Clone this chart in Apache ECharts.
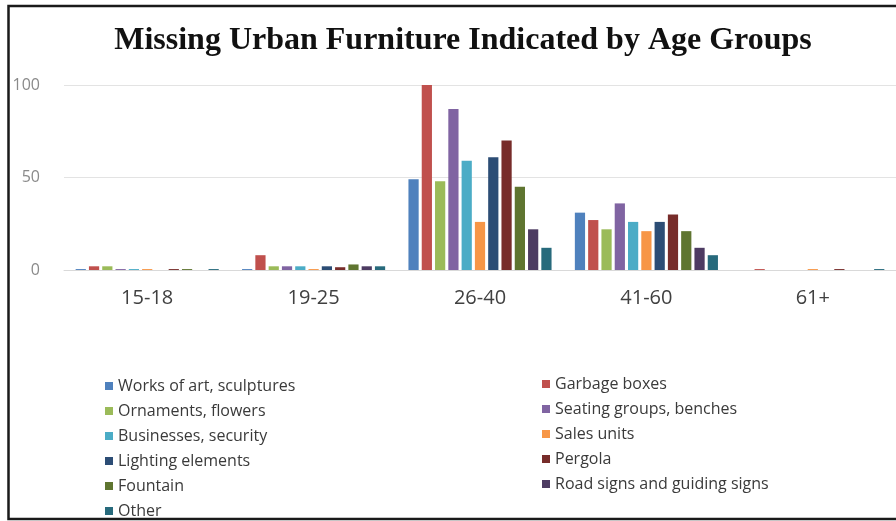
<!DOCTYPE html>
<html>
<head>
<meta charset="utf-8">
<script src="https://cdn.jsdelivr.net/npm/echarts@6/dist/echarts.min.js"></script>
<style>
  html, body { margin: 0; padding: 0; background: #fff; }
  #chart { width: 896px; height: 521px; }
</style>
</head>
<body>
<div id="chart"></div>
<script>
const ageGroups = ["15-18", "19-25", "26-40", "41-60", "61+"];

const worksOfArt   = [0.5, 0.5, 49, 31, 0];
const garbageBoxes = [2, 8, 100, 27, 0.5];
const ornaments    = [2, 2, 48, 22, 0];
const seating      = [0.5, 2, 87, 36, 0];
const businesses   = [0.5, 2, 59, 26, 0];
const salesUnits   = [0.5, 0.5, 26, 21, 0.5];
const lighting     = [0, 2, 61, 26, 0];
const pergola      = [0.5, 1.5, 70, 30, 0.5];
const fountain     = [0.5, 3, 45, 21, 0];
const roadSigns    = [0, 2, 22, 12, 0];
const other        = [0.5, 2, 12, 8, 0.5];

const yTicks = [0, 50, 100];

const seriesList = [
  { name: "Works of art, sculptures", data: worksOfArt, color: "#4F81BD" },
  { name: "Garbage boxes", data: garbageBoxes, color: "#C0504D" },
  { name: "Ornaments, flowers", data: ornaments, color: "#9BBB59" },
  { name: "Seating groups, benches", data: seating, color: "#8064A2" },
  { name: "Businesses, security", data: businesses, color: "#4BACC6" },
  { name: "Sales units", data: salesUnits, color: "#F79646" },
  { name: "Lighting elements", data: lighting, color: "#2C4D75" },
  { name: "Pergola", data: pergola, color: "#772C2A" },
  { name: "Fountain", data: fountain, color: "#5F7530" },
  { name: "Road signs and guiding signs", data: roadSigns, color: "#4D3B62" },
  { name: "Other", data: other, color: "#276A7C" },
];

// legend is two columns, read across rows
const leftNames = seriesList.filter((s, i) => i % 2 === 0).map(s => s.name);
const rightNames = seriesList.filter((s, i) => i % 2 === 1).map(s => s.name);

const legendText = {
  fontFamily: "Open Sans",
  fontSize: 16,
  color: "#3a3a3a",
  lineHeight: 16,
};

const chart = echarts.init(document.getElementById("chart"));
chart.setOption({
  animation: false,
  title: {
    text: "Missing Urban Furniture Indicated by Age Groups",
    left: 458,
    textAlign: "center",
    top: 20,
    textStyle: {
      fontFamily: "Liberation Serif",
      fontWeight: "bold",
      fontSize: 32,
      color: "#111",
    },
  },
  graphic: [{
    type: "rect",
    shape: { x: 8.5, y: 6, width: 900, height: 513 },
    style: { fill: "none", stroke: "#1a1a1a", lineWidth: 2.5 },
    z: 100,
  }],
  legend: [{
    orient: "vertical",
    left: 100,
    top: 373,
    height: 170,
    itemWidth: 8,
    itemHeight: 8,
    itemGap: 9,
    icon: "rect",
    data: leftNames,
    textStyle: legendText,
  }, {
    orient: "vertical",
    left: 537,
    top: 371,
    height: 170,
    itemWidth: 8,
    itemHeight: 8,
    itemGap: 9,
    icon: "rect",
    data: rightNames,
    textStyle: legendText,
  }],
  grid: {
    left: 64,
    top: 85,
    width: 836,
    height: 185,
  },
  xAxis: {
    type: "category",
    data: ageGroups,
    axisTick: { show: false },
    axisLine: { lineStyle: { color: "#d9d9d9" } },
    axisLabel: {
      margin: 18,
      fontFamily: "Open Sans",
      fontSize: 20,
      color: "#404040",
    },
  },
  yAxis: {
    type: "value",
    min: yTicks[0],
    max: yTicks[yTicks.length - 1],
    interval: 50,
    axisLine: { show: false },
    axisTick: { show: false },
    axisLabel: {
      margin: 24,
      fontFamily: "Open Sans",
      fontSize: 16,
      color: "#8a8a8a",
    },
    splitLine: { lineStyle: { color: "#e3e3e3" } },
  },
  series: seriesList.map(s => ({
    name: s.name,
    type: "bar",
    data: s.data,
    itemStyle: { color: s.color },
    barGap: "30%",
    barCategoryGap: "14%",
  })),
});
</script>
</body>
</html>
